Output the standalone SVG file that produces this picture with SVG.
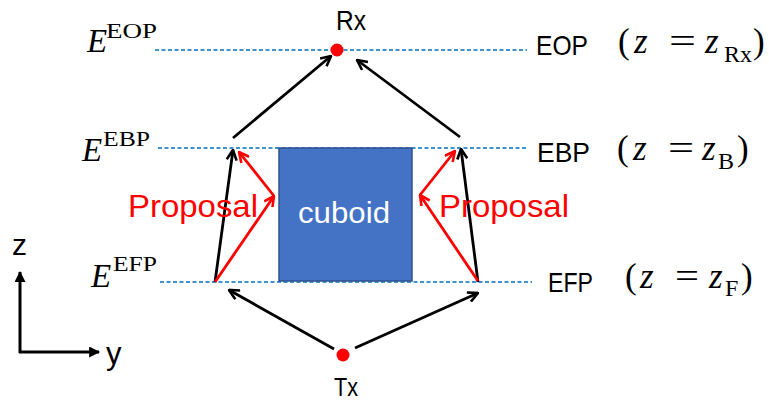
<svg xmlns="http://www.w3.org/2000/svg" width="769" height="404" viewBox="0 0 769 404">
<style>
.dash{stroke:#0070C0;stroke-width:1.5;stroke-dasharray:4 2.5;fill:none}
.blk{stroke:#000;stroke-width:2.8;fill:none;marker-end:url(#ahb)}
.red{stroke:#FF0000;stroke-width:2.8;fill:none;marker-end:url(#ahr)}
.sans{font-family:"Liberation Sans",Arial,sans-serif}
.lbl{font-family:"Liberation Sans",Arial,sans-serif;font-size:28px;fill:#000}
.prop{font-family:"Liberation Sans",Arial,sans-serif;font-size:32px;fill:#FF0000}
.mE{font-family:"Liberation Serif",serif;font-style:italic;font-size:33px}
.sup{font-family:"Liberation Serif",serif;font-size:21px}
.eq{font-family:"Liberation Serif",serif;font-size:35px}
.sub{font-family:"Liberation Serif",serif;font-size:24px}
</style>
<defs>
<marker id="ahb" viewBox="0 0 12 12" refX="11" refY="6" markerWidth="12" markerHeight="12" orient="auto" markerUnits="userSpaceOnUse"><path d="M1,1 L11,6 L1,11" fill="none" stroke="#000" stroke-width="2.6"/></marker>
<marker id="ahr" viewBox="0 0 12 12" refX="11" refY="6" markerWidth="12" markerHeight="12" orient="auto" markerUnits="userSpaceOnUse"><path d="M1,1 L11,6 L1,11" fill="none" stroke="#FF0000" stroke-width="2.6"/></marker>
<marker id="aht" viewBox="0 0 10 10" refX="9" refY="5" markerWidth="12" markerHeight="11" orient="auto" markerUnits="userSpaceOnUse"><path d="M0,0 L10,5 L0,10 Z" fill="#000"/></marker>
</defs>

<g id="planes">
<line class="dash" x1="155" y1="50" x2="527" y2="50"/>
<line class="dash" x1="158" y1="148" x2="528" y2="148"/>
<line class="dash" x1="160" y1="282" x2="532" y2="282"/>
</g>

<g id="cuboid">
<rect x="279" y="148" width="133" height="133" fill="#4472C4" stroke="#2F528F" stroke-width="1.5"/>
<text class="sans" x="344" y="223" font-size="29" fill="#fff" text-anchor="middle" textLength="92" lengthAdjust="spacingAndGlyphs">cuboid</text>
</g>

<g id="connectors">
<line class="blk" x1="233" y1="138" x2="331" y2="56"/>
<line class="blk" x1="460" y1="137" x2="357" y2="60"/>
<line class="blk" x1="215" y1="282" x2="233" y2="150"/>
<line class="blk" x1="478" y1="282" x2="461" y2="149"/>
<line class="blk" x1="334" y1="349" x2="229" y2="290"/>
<line class="blk" x1="355" y1="348" x2="478" y2="293"/>
<line class="red" x1="215" y1="282" x2="274" y2="196"/>
<line class="red" x1="274" y1="196" x2="239" y2="152"/>
<line class="red" x1="478" y1="281" x2="420" y2="195"/>
<line class="red" x1="420" y1="195" x2="455" y2="151"/>
</g>

<g id="rx">
<circle cx="337" cy="50" r="6.5" fill="#FF0000"/>
<text class="sans" x="336" y="30" font-size="27" textLength="30" lengthAdjust="spacingAndGlyphs">Rx</text>
</g>
<g id="tx">
<circle cx="343" cy="355" r="6.5" fill="#FF0000"/>
<text class="sans" x="334" y="396" font-size="26" textLength="24" lengthAdjust="spacingAndGlyphs">Tx</text>
</g>

<g id="proposal-left"><text class="prop" x="128" y="217" textLength="130" lengthAdjust="spacingAndGlyphs">Proposal</text></g>
<g id="proposal-right"><text class="prop" x="439" y="217" textLength="130" lengthAdjust="spacingAndGlyphs">Proposal</text></g>

<g id="label-eop-left">
<text class="mE" x="87" y="52">E</text>
<text class="sup" x="106" y="38" textLength="51" lengthAdjust="spacingAndGlyphs">EOP</text>
</g>
<g id="label-ebp-left">
<text class="mE" x="82" y="161">E</text>
<text class="sup" x="103" y="146" textLength="47" lengthAdjust="spacingAndGlyphs">EBP</text>
</g>
<g id="label-efp-left">
<text class="mE" x="91" y="287">E</text>
<text class="sup" x="113" y="271" textLength="44" lengthAdjust="spacingAndGlyphs">EFP</text>
</g>

<g id="label-eop-right">
<text class="lbl" x="536" y="55" textLength="52" lengthAdjust="spacingAndGlyphs">EOP</text>
<text class="eq" x="618" y="53">(</text>
<text class="eq" x="634" y="53" font-style="italic">z</text>
<text class="eq" x="669" y="53" textLength="27" lengthAdjust="spacingAndGlyphs">=</text>
<text class="eq" x="705" y="53" font-style="italic">z</text>
<text class="sub" x="724" y="62" textLength="28" lengthAdjust="spacingAndGlyphs">Rx</text>
<text class="eq" x="753" y="53">)</text>
</g>
<g id="label-ebp-right">
<text class="lbl" x="537" y="162" textLength="53" lengthAdjust="spacingAndGlyphs">EBP</text>
<text class="eq" x="617" y="160">(</text>
<text class="eq" x="633" y="160" font-style="italic">z</text>
<text class="eq" x="668" y="160" textLength="26" lengthAdjust="spacingAndGlyphs">=</text>
<text class="eq" x="702" y="160" font-style="italic">z</text>
<text class="sub" x="718" y="169">B</text>
<text class="eq" x="737" y="160">)</text>
</g>
<g id="label-efp-right">
<text class="lbl" x="548" y="292" textLength="45" lengthAdjust="spacingAndGlyphs">EFP</text>
<text class="eq" x="625" y="288">(</text>
<text class="eq" x="640" y="288" font-style="italic">z</text>
<text class="eq" x="675" y="288" textLength="24" lengthAdjust="spacingAndGlyphs">=</text>
<text class="eq" x="709" y="288" font-style="italic">z</text>
<text class="sub" x="725" y="296">F</text>
<text class="eq" x="741" y="288">)</text>
</g>

<g id="axes">
<line x1="20" y1="353" x2="20" y2="272" stroke="#000" stroke-width="3" marker-end="url(#aht)"/>
<line x1="19" y1="352" x2="99" y2="352" stroke="#000" stroke-width="3" marker-end="url(#aht)"/>
<text class="sans" x="12" y="255" font-size="30">z</text>
<text class="sans" x="106" y="364" font-size="31">y</text>
</g>
</svg>
